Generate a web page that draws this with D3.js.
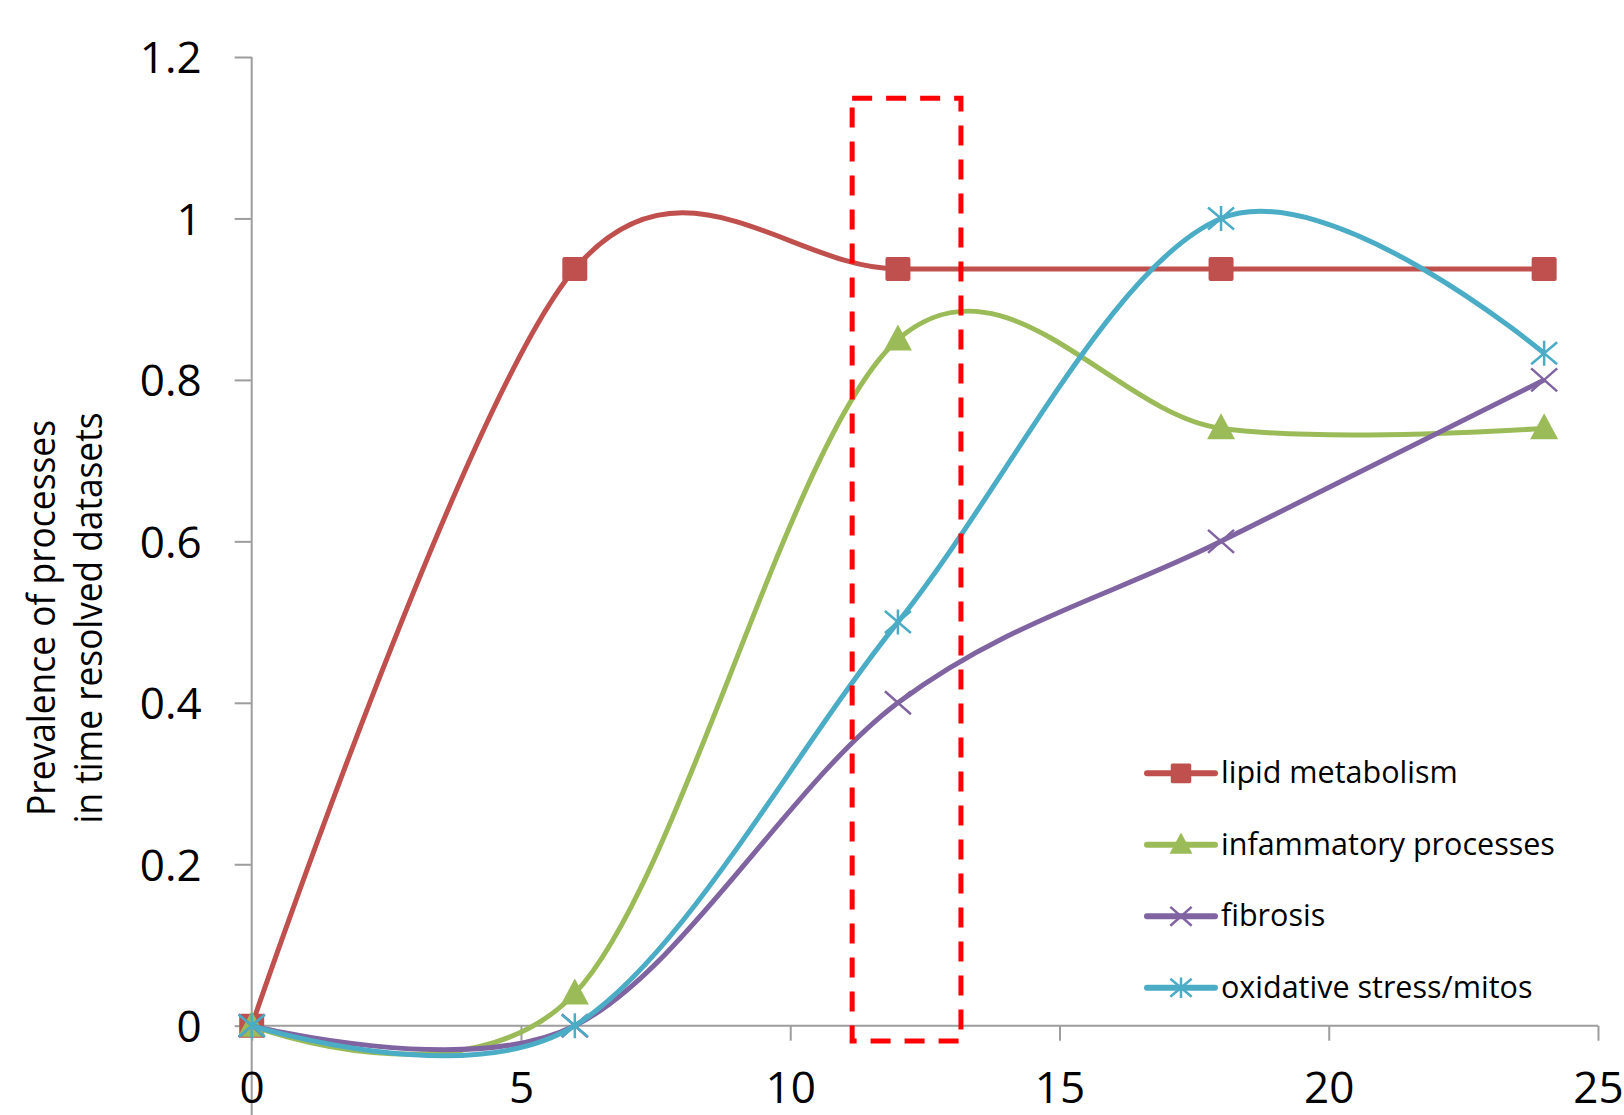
<!DOCTYPE html>
<html><head><meta charset="utf-8">
<script src="https://cdn.jsdelivr.net/npm/d3@7"></script>
<style>html,body{margin:0;padding:0;background:#fff;} svg{display:block;font-family:"Open Sans",sans-serif;}</style>
</head><body>
<svg id="chart" width="1624" height="1115"></svg>
<script>
// ---- data ----
const hours = [0, 6, 12, 18, 24];
const seriesNames = ["lipid metabolism", "infammatory processes", "fibrosis", "oxidative stress/mitos"];
const lipid = [0, 0.9375, 0.9375, 0.9375, 0.9375];
const inflammatory = [0, 0.04, 0.85, 0.74, 0.74];
const fibrosis = [0, 0, 0.4, 0.6, 0.8];
const oxidative = [0, 0, 0.5, 1.0, 0.833];
const xTicks = [0, 5, 10, 15, 20, 25];
const xTickLabels = ["0", "5", "10", "15", "20", "25"];
const yTicks = [0, 0.2, 0.4, 0.6, 0.8, 1, 1.2];
const yTickLabels = ["0", "0.2", "0.4", "0.6", "0.8", "1", "1.2"];
const highlightX = [11.15, 13.17];
const highlightY = [-0.019, 1.149];
const yTitle = ["Prevalence of processes", "in time resolved datasets"];

// ---- styles ----
const colors = ["#C0504D", "#9BBB59", "#8064A2", "#4BACC6"];
const markers = ["square", "triangle", "x", "star"];
const seriesValues = [lipid, inflammatory, fibrosis, oxidative];

const W = 1624, H = 1115;
const svg = d3.select("#chart");
svg.append("rect").attr("width", W).attr("height", H).attr("fill", "#fff");

const x = d3.scaleLinear().domain([0, 25]).range([251.7, 1598]);
const y = d3.scaleLinear().domain([0, 1.2]).range([1025.7, 57]);
const axisColor = "#9d9d9d";

// y axis
const gy = svg.append("g").attr("transform", `translate(${x(0)},0)`)
  .call(d3.axisLeft(y).tickValues(yTicks).tickFormat((d, i) => yTickLabels[i])
    .tickSize(17).tickSizeOuter(0).tickPadding(33));
gy.select(".domain").remove();
gy.selectAll(".tick line").attr("stroke", axisColor).attr("stroke-width", 2);
gy.selectAll(".tick text").attr("font-size", 44).attr("fill", "#000")
  .attr("font-family", '"Open Sans", sans-serif').attr("dy", "0.36em");
svg.append("line").attr("x1", x(0)).attr("x2", x(0)).attr("y1", y(1.2)).attr("y2", H)
  .attr("stroke", axisColor).attr("stroke-width", 2);

// x axis
const gx = svg.append("g").attr("transform", `translate(0,${y(0)})`)
  .call(d3.axisBottom(x).tickValues(xTicks).tickFormat((d, i) => xTickLabels[i])
    .tickSize(15).tickSizeOuter(0).tickPadding(31));
gx.select(".domain").remove();
gx.selectAll(".tick line").attr("stroke", axisColor).attr("stroke-width", 2);
gx.selectAll(".tick text").attr("font-size", 44).attr("fill", "#000")
  .attr("font-family", '"Open Sans", sans-serif');
svg.append("line").attr("x1", x(0)).attr("x2", x(25)).attr("y1", y(0)).attr("y2", y(0))
  .attr("stroke", axisColor).attr("stroke-width", 2);

// y title
const tl = [55, 102];
yTitle.forEach((t, i) => {
  svg.append("text")
    .attr("transform", `translate(${tl[i]},618) rotate(-90)`)
    .attr("text-anchor", "middle")
    .attr("font-size", 39)
    .attr("textLength", i === 0 ? 396 : 411)
    .attr("lengthAdjust", "spacingAndGlyphs")
    .attr("fill", "#000")
    .text(t);
});

// marker drawing
function drawMarker(g, type, cx, cy, color, s) {
  s = s || 1;
  if (type === "square") {
    g.append("rect").attr("x", cx - 12.5 * s).attr("y", cy - 12 * s)
      .attr("width", 25 * s).attr("height", 24 * s).attr("rx", 2 * s)
      .attr("fill", color);
  } else if (type === "triangle") {
    g.append("path").attr("d", `M${cx},${cy - 15 * s}L${cx + 14 * s},${cy + 11 * s}L${cx - 14 * s},${cy + 11 * s}Z`)
      .attr("fill", color);
  } else if (type === "x") {
    g.append("path").attr("d",
      `M${cx - 13 * s},${cy - 11.5 * s}L${cx + 13 * s},${cy + 11.5 * s}M${cx - 13 * s},${cy + 11.5 * s}L${cx + 13 * s},${cy - 11.5 * s}`)
      .attr("stroke", color).attr("stroke-width", 2.5).attr("fill", "none");
  } else if (type === "star") {
    g.append("path").attr("d",
      `M${cx - 13 * s},${cy - 11 * s}L${cx + 13 * s},${cy + 11 * s}M${cx - 13 * s},${cy + 11 * s}L${cx + 13 * s},${cy - 11 * s}M${cx},${cy - 12.5 * s}L${cx},${cy + 12.5 * s}`)
      .attr("stroke", color).attr("stroke-width", 2.5).attr("fill", "none");
  }
}

// series
const line = d3.line().x((d, i) => x(hours[i])).y(d => y(d)).curve(d3.curveCardinal.tension(0));
seriesValues.forEach((vals, si) => {
  const g = svg.append("g");
  g.append("path").attr("d", line(vals)).attr("fill", "none")
    .attr("stroke", colors[si]).attr("stroke-width", 5).attr("stroke-linejoin", "round");
  vals.forEach((v, i) => drawMarker(g, markers[si], x(hours[i]), y(v), colors[si], 1));
});

// highlight box
svg.append("rect")
  .attr("x", x(highlightX[0])).attr("y", y(highlightY[1]))
  .attr("width", x(highlightX[1]) - x(highlightX[0]))
  .attr("height", y(highlightY[0]) - y(highlightY[1]))
  .attr("fill", "none").attr("stroke", "#FF0000").attr("stroke-width", 5)
  .attr("stroke-dasharray", "20,14");

// legend
const legendTop = 773.3, legendStep = 71.5;
seriesNames.forEach((name, i) => {
  const ly = legendTop + i * legendStep;
  const g = svg.append("g");
  g.append("line").attr("x1", 1147).attr("x2", 1215).attr("y1", ly).attr("y2", ly)
    .attr("stroke", colors[i]).attr("stroke-width", 6).attr("stroke-linecap", "round");
  drawMarker(g, markers[i], 1181, ly, colors[i], 0.82);
  g.append("text").attr("x", 1221).attr("y", ly + 10).attr("font-size", 30.5)
    .attr("fill", "#000").text(name);
});
</script>
</body></html>
